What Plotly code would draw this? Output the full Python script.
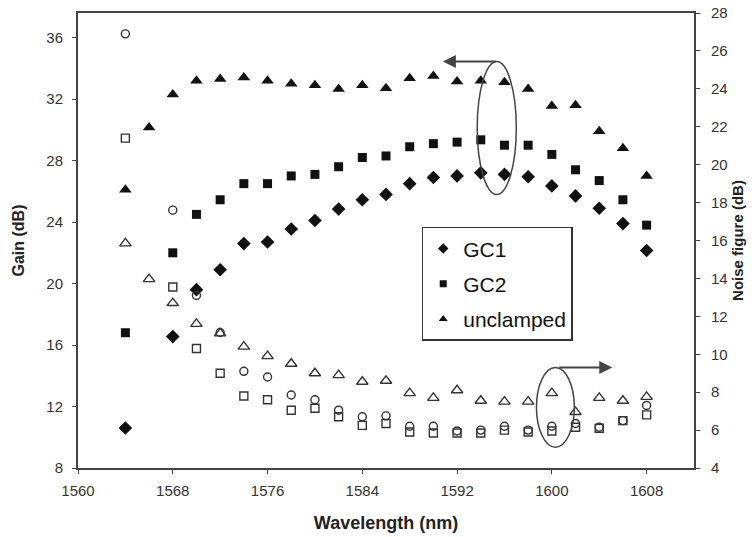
import plotly.graph_objects as go

# ---- data ----
wl_unclamped = [1564, 1566, 1568, 1570, 1572, 1574, 1576, 1578, 1580, 1582, 1584, 1586,
                1588, 1590, 1592, 1594, 1596, 1598, 1600, 1602, 1604, 1606, 1608]
wl_gc = [1564, 1568, 1570, 1572, 1574, 1576, 1578, 1580, 1582, 1584, 1586,
         1588, 1590, 1592, 1594, 1596, 1598, 1600, 1602, 1604, 1606, 1608]

gain_gc1 = [10.6, 16.55, 19.6, 20.9, 22.6, 22.7, 23.55, 24.1, 24.85, 25.45, 25.8,
            26.5, 26.9, 27.0, 27.2, 27.1, 26.95, 26.35, 25.7, 24.9, 23.9, 22.15]
gain_gc2 = [16.8, 22.0, 24.5, 25.45, 26.5, 26.5, 27.0, 27.1, 27.6, 28.2, 28.3,
            28.9, 29.1, 29.2, 29.35, 29.0, 29.0, 28.4, 27.4, 26.7, 25.45, 23.8]
gain_unclamped = [26.1, 30.15, 32.3, 33.2, 33.3, 33.4, 33.2, 33.0, 32.9, 32.65, 32.9, 32.7,
                  33.35, 33.5, 33.15, 33.2, 33.1, 32.65, 31.55, 31.6, 29.9, 28.8, 27.0]

nf_gc1 = [26.9, 17.6, 13.1, 11.15, 9.1, 8.8, 7.85, 7.6, 7.05, 6.7, 6.75,
          6.2, 6.2, 5.95, 6.0, 6.2, 6.0, 6.2, 6.35, 6.15, 6.5, 7.3]
nf_gc2 = [21.4, 13.55, 10.3, 9.0, 7.8, 7.6, 7.05, 7.15, 6.7, 6.25, 6.35,
          5.9, 5.85, 5.85, 5.85, 6.0, 5.9, 5.95, 6.15, 6.1, 6.5, 6.8]
nf_unclamped = [15.85, 13.96, 12.7, 11.6, 11.1, 10.4, 9.9, 9.5, 9.0, 8.9, 8.55, 8.6,
                7.95, 7.7, 8.1, 7.55, 7.5, 7.5, 7.95, 6.95, 7.7, 7.55, 7.75]

series_names = ["GC1", "GC2", "unclamped"]
x_ticks = [1560, 1568, 1576, 1584, 1592, 1600, 1608]

FONT = "Liberation Sans, Arial, sans-serif"
INK = "#111111"
LINE = "#444444"

fig = go.Figure()

# gain (filled markers, left axis)
fig.add_trace(go.Scatter(x=wl_gc, y=gain_gc1, mode="markers", name=series_names[0],
                         legendgroup="a", showlegend=False,
                         marker=dict(symbol="diamond", size=10.5, color=INK)))
fig.add_trace(go.Scatter(x=wl_gc, y=gain_gc2, mode="markers", name=series_names[1],
                         legendgroup="b", showlegend=False,
                         marker=dict(symbol="square", size=9, color=INK)))
fig.add_trace(go.Scatter(x=wl_unclamped, y=gain_unclamped, mode="markers", name=series_names[2],
                         legendgroup="c", showlegend=False,
                         marker=dict(symbol="triangle-up", size=11, color=INK)))

# legend entries (smaller symbols, as in the reference legend)
for name, grp, sym, sz in [(series_names[0], "a", "diamond", 8),
                           (series_names[1], "b", "square", 7),
                           (series_names[2], "c", "triangle-up", 8)]:
    fig.add_trace(go.Scatter(x=[None], y=[None], mode="markers", name=name,
                             legendgroup=grp, showlegend=True,
                             marker=dict(symbol=sym, size=sz, color=INK)))

# noise figure (open markers, right axis)
fig.add_trace(go.Scatter(x=wl_gc, y=nf_gc1, mode="markers", yaxis="y2", showlegend=False,
                         marker=dict(symbol="circle-open", size=8, color="#333333",
                                     line=dict(width=1.4))))
fig.add_trace(go.Scatter(x=wl_gc, y=nf_gc2, mode="markers", yaxis="y2", showlegend=False,
                         marker=dict(symbol="square-open", size=8, color="#333333",
                                     line=dict(width=1.4))))
fig.add_trace(go.Scatter(x=wl_unclamped, y=nf_unclamped, mode="markers", yaxis="y2", showlegend=False,
                         marker=dict(symbol="triangle-up-open", size=10, color="#333333",
                                     line=dict(width=1.4))))

# ellipses + arrows
fig.add_shape(type="circle", xref="x", yref="y", x0=1593.7, x1=1597.0, y0=25.8, y1=34.45,
              line=dict(color=LINE, width=1.5))
fig.add_annotation(x=1590.8, y=34.45, ax=1595.4, ay=34.45, xref="x", yref="y",
                   axref="x", ayref="y", text="", showarrow=True,
                   arrowhead=2, arrowsize=1.3, arrowwidth=2, arrowcolor=LINE)
fig.add_shape(type="circle", xref="x", yref="y2", x0=1598.7, x1=1601.9, y0=5.1, y1=9.3,
              line=dict(color=LINE, width=1.5))
fig.add_annotation(x=1605.1, y=9.3, ax=1600.5, ay=9.3, xref="x", yref="y2",
                   axref="x", ayref="y2", text="", showarrow=True,
                   arrowhead=2, arrowsize=1.3, arrowwidth=2, arrowcolor=LINE)

fig.update_layout(
    width=756, height=537,
    margin=dict(l=78, r=62, t=13, b=69, autoexpand=False),
    paper_bgcolor="white", plot_bgcolor="white",
    font=dict(family=FONT, color="#222222", size=15),
    showlegend=True,
    legend=dict(x=0.558, y=0.53, xanchor="left", yanchor="top",
                bgcolor="white", bordercolor="#333333", borderwidth=1.5,
                font=dict(family=FONT, size=21, color="#111111"),
                traceorder="grouped", tracegroupgap=5, itemwidth=30),
    xaxis=dict(range=[1560, 1612], tickvals=x_ticks, ticks="outside", ticklen=4,
               tickcolor=LINE, showline=True, linecolor=LINE, linewidth=2, mirror=True,
               showgrid=False, zeroline=False, ticklabelstandoff=4, automargin=False,
               tickfont=dict(size=15, color="#333333"),
               title=dict(text="<b>Wavelength (nm)</b>", font=dict(size=18, color="#222222"),
                          standoff=18)),
    yaxis=dict(range=[8, 37.6], tick0=8, dtick=4, ticks="outside", ticklen=4,
               tickcolor=LINE, showline=True, linecolor=LINE, linewidth=2,
               showgrid=False, zeroline=False, ticklabelstandoff=6, automargin=False,
               tickfont=dict(size=15, color="#333333"),
               title=dict(text="<b>Gain (dB)</b>", font=dict(size=16, color="#222222"),
                          standoff=18)),
    yaxis2=dict(range=[4, 28], tick0=4, dtick=2, overlaying="y", side="right",
                ticks="outside", ticklen=4, tickcolor=LINE, automargin=False,
                showline=True, linecolor=LINE, linewidth=2,
                showgrid=False, zeroline=False, ticklabelstandoff=8,
                tickfont=dict(size=15, color="#333333"),
                title=dict(text="<b>Noise figure (dB)</b>", font=dict(size=15, color="#222222"),
                           standoff=6)),
)

fig.write_html("out.html")
